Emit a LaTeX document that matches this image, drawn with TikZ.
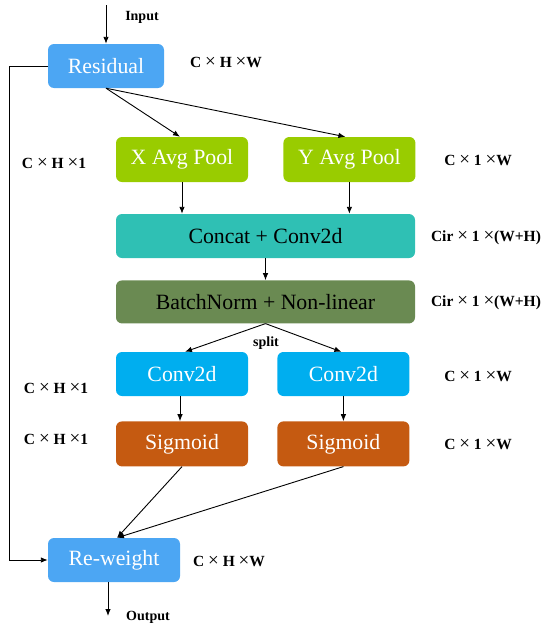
\documentclass[tikz,border=0pt]{standalone}
\usepackage{fontspec}
\setmainfont{Liberation Serif}
\usepackage{xcolor}
\definecolor{resblue}{HTML}{4CA6F3}
\definecolor{poolgreen}{HTML}{99CC00}
\definecolor{concatteal}{HTML}{2FC0B4}
\definecolor{bnolive}{HTML}{6A8A52}
\definecolor{convcyan}{HTML}{00AEEF}
\definecolor{sigorange}{HTML}{C55A11}
\usetikzlibrary{positioning, arrows.meta, calc}
\tikzset{
  >={Latex[length=7pt, width=5.5pt]},
  block/.style={
    rectangle, rounded corners=6pt, draw=none, align=center,
    inner sep=0pt, font=\fontsize{21.8}{24}\selectfont
  },
  resbox/.style={block, fill=resblue, text=white,
    minimum width=116pt, minimum height=44pt},
  poolbox/.style={block, fill=poolgreen, text=white,
    minimum width=132pt, minimum height=45pt},
  widebox/.style={block, text=black,
    minimum width=299pt, minimum height=44pt},
  convbox/.style={block, fill=convcyan, text=white,
    minimum width=132pt, minimum height=44pt},
  sigbox/.style={block, fill=sigorange, text=white,
    minimum width=132pt, minimum height=45pt},
  flowarrow/.style={->, black, line width=0.9pt},
  textlabel/.style={font=\fontsize{14}{16}\selectfont\bfseries, inner sep=0pt},
  dimlabel/.style={font=\fontsize{15.5}{16}\selectfont\bfseries, inner sep=0pt}
}
% wide thin cross as in the dimension labels
\newcommand{\crs}{{\mdseries\fontsize{19}{16}\selectfont ×}}

\begin{document}
\begin{tikzpicture}[x=1pt, y=1pt]
\useasboundingbox (0,0) rectangle (550,-632);

% blocks
\node[resbox] (res) at (106,-66) {Residual};
\node[poolbox] (xpool) at (182,-159.5) {X Avg Pool};
\node[poolbox, right=35pt of xpool] (ypool) {Y Avg Pool};
\node[widebox, fill=concatteal] (concat) at (265.5,-236) {Concat + Conv2d};
\node[widebox, fill=bnolive, below=22pt of concat, minimum height=43pt]
   (bn) {BatchNorm + Non-linear};
\node[convbox] (convl) at (182,-374) {Conv2d};
\node[convbox, right=29pt of convl] (convr) {Conv2d};
\node[sigbox, below=25pt of convl] (sigl) {Sigmoid};
\node[sigbox, below=25pt of convr] (sigr) {Sigmoid};
\node[resbox, minimum width=132pt] (rew) at (114,-560) {Re-weight};

\coordinate (in) at (106,-5);
\coordinate (out) at (108,-616);
\coordinate (skip) at (9,-66);

% dimension labels
\node[textlabel] (linput) at (142,-17) {Input};
\node[dimlabel] (lres) at (226,-62) {C \crs{} H \crs W};
\node[dimlabel] (lleft1) at (54,-163) {C \crs{} H \crs 1};
\node[dimlabel] (lpool) at (478,-160) {C \crs{} 1 \crs W};
\node[dimlabel] (lconcat) at (486,-238) {Cir \crs{} 1 \crs(W+H)};
\node[dimlabel] (lbn) at (486,-303) {Cir \crs{} 1 \crs(W+H)};
\node[textlabel] (lsplit) at (266,-343) {split};
\node[dimlabel] (lleft2) at (56,-388) {C \crs{} H \crs 1};
\node[dimlabel] (lleft3) at (56,-439) {C \crs{} H \crs 1};
\node[dimlabel] (lconv) at (478,-376) {C \crs{} 1 \crs W};
\node[dimlabel] (lsig) at (478,-444) {C \crs{} 1 \crs W};
\node[dimlabel] (lrew) at (229,-561) {C \crs{} H \crs W};
\node[textlabel] (loutput) at (148,-617) {Output};

% connectors
\draw[flowarrow] (in) -- (res.north);
\draw[flowarrow] (res.south) -- ([xshift=-2pt]xpool.north);
\draw[flowarrow] (res.south) -- ([xshift=-4pt]ypool.north);
\draw[flowarrow] (xpool.south) -- (xpool.south |- concat.north);
\draw[flowarrow] (ypool.south) -- (ypool.south |- concat.north);
\draw[flowarrow] (concat.south) -- (bn.north);
\draw[flowarrow] (bn.south) -- ([xshift=3pt]convl.north);
\draw[flowarrow] (bn.south) -- ([xshift=-2pt]convr.north);
\draw[flowarrow] ([xshift=-2pt]convl.south) -- ([xshift=-2pt]sigl.north);
\draw[flowarrow] (convr.south) -- (sigr.north);
\draw[flowarrow] (sigl.south) -- ([xshift=3pt]rew.north);
\draw[flowarrow] (sigr.south) -- ([xshift=3pt]rew.north);
\draw[flowarrow] (res.west) -- (skip) |- (rew.west);
\draw[flowarrow] ([xshift=-6pt]rew.south) -- (out);
\end{tikzpicture}
\end{document}
